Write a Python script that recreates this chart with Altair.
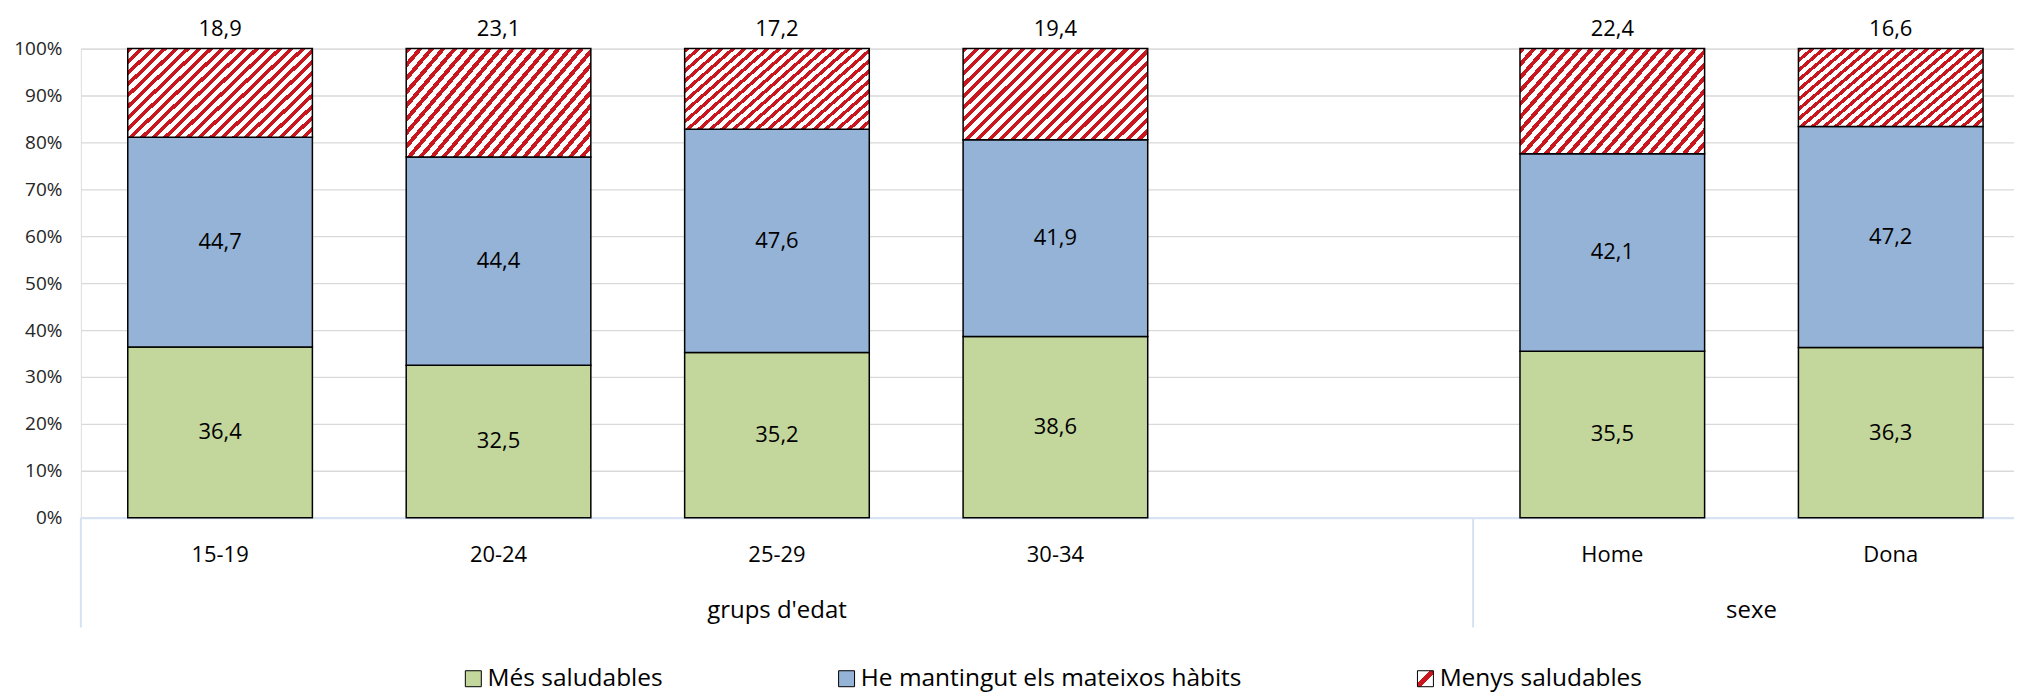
import altair as alt
import pandas as pd

# ---- data ----
categories = ["15-19", "20-24", "25-29", "30-34", "Home", "Dona"]
slots = ["15-19", "20-24", "25-29", "30-34", " ", "Home", "Dona"]
series = ["Més saludables", "He mantingut els mateixos hàbits", "Menys saludables"]
mes_saludables = [36.4, 32.5, 35.2, 38.6, 35.5, 36.3]
mateixos_habits = [44.7, 44.4, 47.6, 41.9, 42.1, 47.2]
menys_saludables = [18.9, 23.1, 17.2, 19.4, 22.4, 16.6]
group_names = ["grups d'edat", "sexe"]
yticks = [0, 0.1, 0.2, 0.3, 0.4, 0.5, 0.6, 0.7, 0.8, 0.9, 1.0]

rows = []
for i, c in enumerate(categories):
    for o, (s, vals) in enumerate(zip(series, [mes_saludables, mateixos_habits, menys_saludables])):
        rows.append({"cat": c, "serie": s, "value": vals[i], "ord": o})
df = pd.DataFrame(rows)

# ---- layout / style ----
FONT = "Open Sans"
W, H = 1937, 470
STEP, BW, LEFT = 279.0, 185.0, 47.0
n = len(slots)
p_in = 1 - BW / STEP
p_out = (W / STEP - n + p_in) / 2
align = LEFT / (W - STEP * (n - p_in))
HALF_GAP = (STEP - BW) / 2

GREEN, BLUE, RED = "#C3D69B", "#95B3D7", "#C8171F"

def hatch(x2, y2, cycles, frac):
    stops = []
    for k in range(cycles):
        a = k / cycles
        b = (k + frac) / cycles
        e = (k + 1) / cycles
        stops += [{"offset": a, "color": RED}, {"offset": b, "color": RED},
                  {"offset": b, "color": "white"}, {"offset": e, "color": "white"}]
    return {"gradient": "linear", "x1": 0, "y1": 0, "x2": x2, "y2": y2, "stops": stops}

bar_hatch = hatch(1.2, 0.597, 24, 0.45)
legend_hatch_expr = (
    "{gradient: 'linear', x1: 0, y1: 0, x2: 1, y2: 1, stops: ["
    "{offset: 0, color: 'white'}, {offset: 0.38, color: 'white'},"
    "{offset: 0.38, color: '" + RED + "'}, {offset: 0.62, color: '" + RED + "'},"
    "{offset: 0.62, color: 'white'}, {offset: 1, color: 'white'}]}"
)

xscale = alt.Scale(domain=slots, paddingInner=p_in, paddingOuter=p_out, align=align)
yscale = alt.Scale(domain=[0, 1])
xaxis = alt.Axis(labelAngle=0, labelFontSize=22, labelColor="#000000", labelFont=FONT,
                 labelPadding=27, ticks=False, grid=False, domainColor="#D6E2F3",
                 domainWidth=2, title=None)
yaxis = alt.Axis(values=yticks, format=".0%", labelFontSize=19, labelColor="#262626",
                 labelFont=FONT, labelPadding=19, ticks=False, domain=False,
                 gridColor="#D9D9D9", gridWidth=1.3, title=None)

def X(**kw):
    return alt.X("cat:N", scale=xscale, axis=xaxis, title=None, **kw)

def Y(field):
    return alt.Y(field, scale=yscale, axis=yaxis, title=None)

is_menys = "datum.serie === 'Menys saludables'"

base = alt.Chart(df)

bars = base.mark_bar(stroke="black", strokeWidth=1.5).encode(
    x=X(),
    y=alt.Y("value:Q", stack="normalize", scale=yscale, axis=yaxis, title=None),
    color=alt.Color("serie:N",
                    scale=alt.Scale(domain=series,
                                    range=[GREEN, BLUE, alt.ExprRef(legend_hatch_expr)]),
                    condition={"test": is_menys, "value": bar_hatch},
                    legend=alt.Legend(title=None, orient="none", direction="horizontal",
                                      legendX=381, legendY=619, symbolType="square",
                                      symbolSize=256, symbolStrokeColor="black",
                                      symbolStrokeWidth=1, symbolOpacity=1,
                                      labelFontSize=24.5, labelFont=FONT,
                                      labelColor="#000000", labelOffset=2, columnPadding=171,
                                      labelLimit=1000, padding=0)),
    order=alt.Order("ord:Q", sort="ascending"),
)

lab = base.transform_stack(
    stack="value", groupby=["cat"], offset="normalize",
    sort=[alt.SortField("ord", order="ascending")], as_=["y0", "y1"]
).transform_calculate(
    mid="(datum.y0 + datum.y1) / 2",
    label="replace(format(datum.value, '.1f'), '.', ',')",
)

inner_labels = lab.transform_filter("!(" + is_menys + ")").mark_text(
    font=FONT, fontSize=22, color="black", baseline="middle"
).encode(x=X(), y=Y("mid:Q"), text="label:N")

top_labels = lab.transform_filter(is_menys).mark_text(
    font=FONT, fontSize=22, color="black", baseline="middle", dy=-20
).encode(x=X(), y=Y("y1:Q"), text="label:N")

g1 = alt.Chart(pd.DataFrame({"group": [group_names[0]], "cat": ["25-29"]})).mark_text(
    font=FONT, fontSize=24, color="black", baseline="middle"
).encode(x=X(bandPosition=0.5), y=alt.value(564), text="group:N")

g2 = alt.Chart(pd.DataFrame({"group": [group_names[1]], "cat": ["Home"]})).mark_text(
    font=FONT, fontSize=24, color="black", baseline="middle", xOffset=HALF_GAP
).encode(x=X(bandPosition=1), y=alt.value(564), text="group:N")

sep_mid = alt.Chart(pd.DataFrame({"cat": [" "]})).mark_rule(
    color="#D6E2F3", strokeWidth=2, xOffset=HALF_GAP
).encode(x=X(bandPosition=1), y=alt.value(H), y2=alt.value(H + 110))

sep_left = alt.Chart(pd.DataFrame({"cat": [" "]})).mark_rule(color="#D6E2F3", strokeWidth=2).encode(
    x=alt.value(0), y=alt.value(H), y2=alt.value(H + 110))

chart = alt.layer(bars, inner_labels, top_labels, g1, g2, sep_mid, sep_left).properties(
    width=W, height=H,
    autosize=alt.AutoSizeParams(type="none"),
    padding={"left": 73, "top": 40, "right": 0, "bottom": 174},
).configure_view(stroke=None).configure(font=FONT, background="white")

chart.save("out.html", embed_options={"renderer": "svg", "actions": False})
